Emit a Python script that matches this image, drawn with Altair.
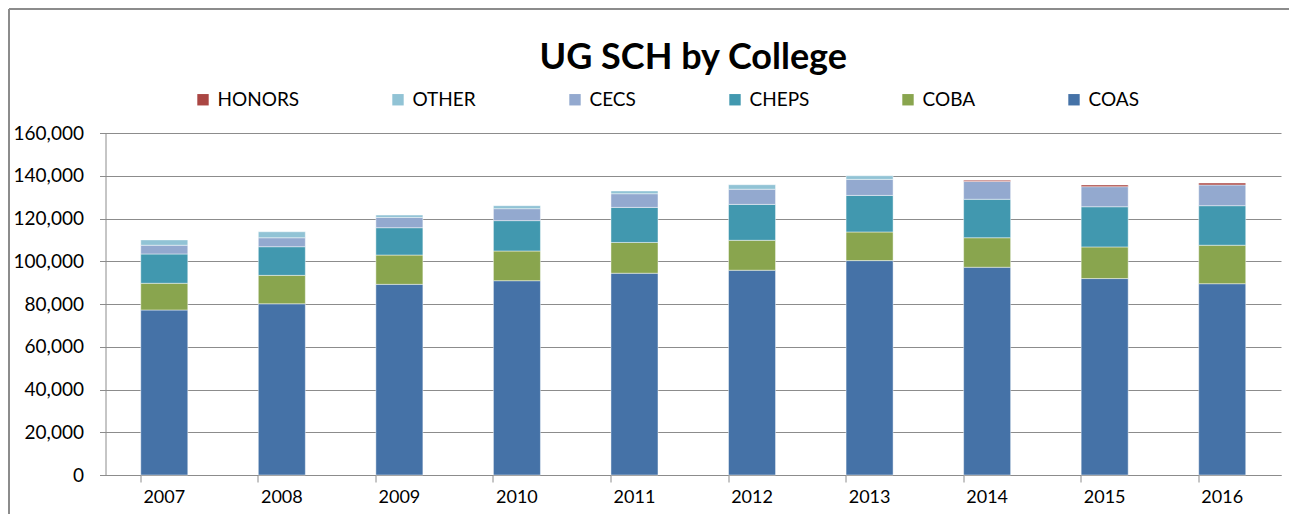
import altair as alt
import pandas as pd

years = ["2007", "2008", "2009", "2010", "2011", "2012", "2013", "2014", "2015", "2016"]
colleges = ["HONORS", "OTHER", "CECS", "CHEPS", "COBA", "COAS"]
colors = ["#AA4643", "#91C3D5", "#93A9CF", "#4198AF", "#89A54E", "#4572A7"]

COAS = [77200, 80100, 89200, 90900, 94400, 95800, 100300, 97200, 91900, 89500]
COBA = [12500, 13300, 13700, 13900, 14400, 14000, 13400, 13800, 14800, 18000]
CHEPS = [13700, 13400, 12800, 14200, 16400, 16800, 17100, 18000, 18800, 18500]
CECS = [4100, 4200, 4800, 5600, 6400, 7100, 7500, 8300, 9400, 9700]
OTHER = [2500, 2800, 1100, 1400, 1300, 2100, 1700, 0, 0, 0]
HONORS = [0, 0, 0, 0, 0, 0, 0, 600, 800, 900]

series = {"COAS": COAS, "COBA": COBA, "CHEPS": CHEPS, "CECS": CECS, "OTHER": OTHER, "HONORS": HONORS}
stack_rank = {"COAS": 0, "COBA": 1, "CHEPS": 2, "CECS": 3, "OTHER": 4, "HONORS": 5}

rows = []
for name, vals in series.items():
    for y, v in zip(years, vals):
        if v > 0:
            rows.append({"Year": y, "College": name, "SCH": v, "rank": stack_rank[name]})
df = pd.DataFrame(rows)

FONT = "Lato"
GRID = "#8c8c8c"

bars = alt.Chart(df).mark_bar(stroke="#ffffff", strokeWidth=1, strokeOpacity=0.45).encode(
    x=alt.X("Year:N", sort=years, title=None,
            scale=alt.Scale(paddingInner=0.6, paddingOuter=0.3),
            axis=alt.Axis(labelAngle=0, bandPosition=0, tickSize=7, tickColor=GRID,
                          domainColor=GRID, labelFontSize=18, labelPadding=6,
                          labelColor="#000000", labelFont=FONT, grid=False)),
    y=alt.Y("SCH:Q", title=None, stack="zero",
            scale=alt.Scale(domain=[0, 160000], nice=False),
            axis=alt.Axis(values=list(range(0, 160001, 20000)), format=",.0f", tickSize=6,
                          tickColor=GRID, domainColor=GRID, gridColor=GRID, gridWidth=1,
                          labelFontSize=19, labelPadding=16, labelColor="#000000",
                          labelFont=FONT)),
    color=alt.Color("College:N", scale=alt.Scale(domain=colleges, range=colors),
                    legend=alt.Legend(title=None, orient="none", direction="horizontal",
                                      legendX=88, legendY=-43, symbolType="square",
                                      symbolSize=130, symbolStrokeWidth=0,
                                      labelFontSize=19, labelFont=FONT, labelColor="#000000",
                                      labelOffset=5, columnPadding=89, columns=6)),
    order=alt.Order("rank:Q", sort="ascending"),
)

frame_left = alt.Chart(df).mark_rule(stroke="#8c8c8c", strokeWidth=2).encode(
    x=alt.value(-96.5), y=alt.value(-124), y2=alt.value(381)
)
frame_top = alt.Chart(df).mark_rule(stroke="#8c8c8c", strokeWidth=2).encode(
    x=alt.value(-96.5), x2=alt.value(1183.5), y=alt.value(-124)
)

chart = alt.layer(frame_left, frame_top, bars).properties(
    width=1175.5, height=342,
    title=alt.TitleParams("UG SCH by College", fontSize=36, fontWeight="bold", font=FONT,
                          color="#000000", anchor="middle", offset=-69),
    padding={"left": 97.5, "top": 125, "right": 8, "bottom": 39},
    autosize=alt.AutoSizeParams(type="none"),
).configure_view(stroke=None)

chart.save("out.html", embed_options={"renderer": "svg", "actions": False})
